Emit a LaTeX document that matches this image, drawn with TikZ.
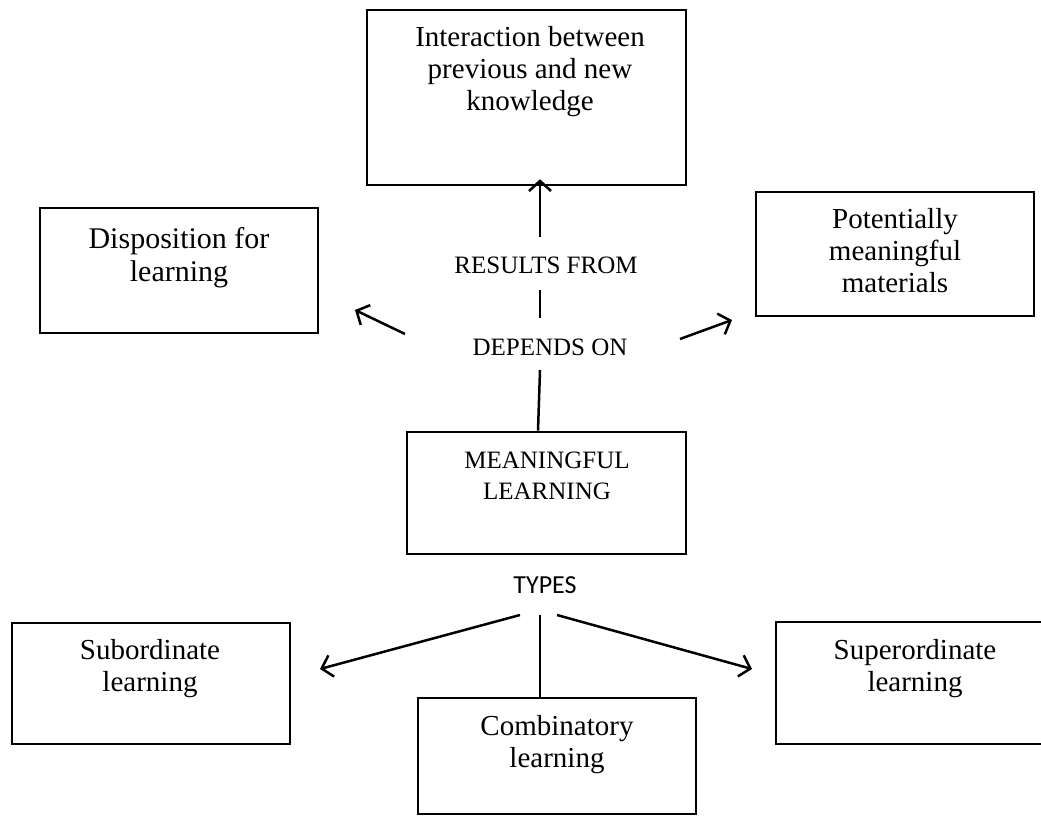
\documentclass[tikz,border=0pt]{standalone}
\usepackage{fontspec}
\setmainfont{Liberation Serif}
\newfontfamily\typesfont{Carlito}
\usetikzlibrary{arrows.meta,positioning}

\tikzset{
  box/.style={draw, line width=2.6pt, inner sep=0pt},
  boxtext/.style={align=center, inner sep=0pt, font=\fontsize{29}{32}\selectfont},
  capstext/.style={align=center, inner sep=0pt, font=\fontsize{25}{31}\selectfont},
  arr/.style={line width=2.5pt, -{Straight Barb[length=10pt,width=22pt,line width=2.5pt]}},
  link/.style={line width=2.5pt}
}

\begin{document}
\begin{tikzpicture}[x=1pt, y=-1pt]
  \clip (0,0) rectangle (1041,816);
  % boxes
  \node[box, minimum width=319pt, minimum height=175pt] (inter) at (526.5,97.5) {};
  \node[box, minimum width=278pt, minimum height=125pt] (disp) at (179,270.5) {};
  \node[box, minimum width=278pt, minimum height=124pt] (pot) at (895,254) {};
  \node[box, minimum width=279pt, minimum height=122pt] (mean) at (546.5,493) {};
  \node[box, minimum width=278pt, minimum height=121pt] (sub) at (151,683.5) {};
  \node[box, minimum width=278pt, minimum height=122pt] (sup) at (915,683) {};
  \node[box, minimum width=278pt, minimum height=116pt] (comb) at (557,756) {};

  % box texts
  \node[boxtext] (intertxt) at (530,72) {Interaction between\\previous and new\\knowledge};
  \node[boxtext, font=\fontsize{30}{33}\selectfont] (disptxt) at (179,258) {Disposition for\\learning};
  \node[boxtext] (pottxt) at (895,251) {Potentially\\meaningful\\materials};
  \node[capstext] (meantxt) at (547,476) {MEANINGFUL\\LEARNING};
  \node[boxtext] (subtxt) at (150,669) {Subordinate\\learning};
  \node[boxtext] (suptxt) at (915,669) {Superordinate\\learning};
  \node[boxtext] (combtxt) at (557,745) {Combinatory\\learning};

  % labels
  \node[capstext] (results) at (546,265) {RESULTS FROM};
  \node[capstext] (depends) at (550,347) {DEPENDS ON};
  \node[inner sep=0pt, font=\typesfont\fontsize{26}{30}\selectfont] (types) at (545,585) {TYPES};

  % connector ends
  \coordinate (upfoot) at (540,237);
  \coordinate (dashtop) at (540,290);
  \coordinate (dashfoot) at (540,318);
  \coordinate (dephead) at (540,370);
  \coordinate (lfoot) at (405,334);
  \coordinate (ltip) at (355,310);
  \coordinate (rfoot) at (680,339);
  \coordinate (rtip) at (732,320);
  \coordinate (tleft) at (520,615);
  \coordinate (tmid) at (540,615);
  \coordinate (tright) at (557,615);
  \coordinate (subtip) at (320,669);
  \coordinate (suptip) at (752,669);

  % connectors
  \draw[arr] (upfoot) -- ([yshift=7pt]upfoot |- inter.south);
  \draw[link] (dashtop) -- (dashfoot);
  \draw[link] (dephead) -- ([xshift=-8.5pt]mean.north);
  \draw[arr] (lfoot) -- (ltip);
  \draw[arr] (rfoot) -- (rtip);
  \draw[arr] (tleft) -- (subtip);
  \draw[link] (tmid) -- (tmid |- comb.north);
  \draw[arr] (tright) -- (suptip);
\end{tikzpicture}
\end{document}
